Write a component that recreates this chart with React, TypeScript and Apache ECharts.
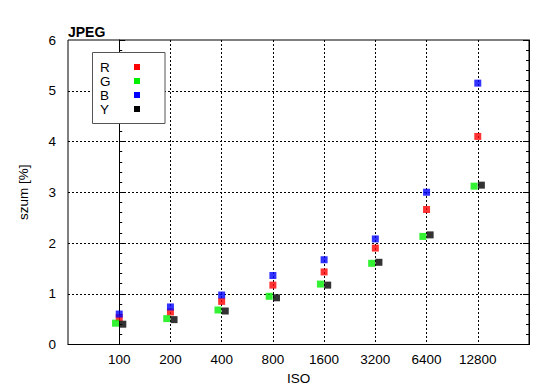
import React, { useEffect, useRef } from "react";
import * as echarts from "echarts";

const isoLabels = ["100", "200", "400", "800", "1600", "3200", "6400", "12800"];
const rValues = [0.53, 0.64, 0.85, 1.17, 1.43, 1.9, 2.66, 4.1];
const gValues = [0.42, 0.51, 0.68, 0.95, 1.19, 1.6, 2.13, 3.12];
const bValues = [0.6, 0.74, 0.975, 1.36, 1.67, 2.08, 3.0, 5.15];
const yValues = [0.4, 0.49, 0.66, 0.92, 1.17, 1.62, 2.16, 3.14];
const seriesNames = ["R", "G", "B", "Y"];
const seriesColors = ["#ff0000", "#00ee00", "#0000ff", "#000000"];
const seriesShift = [0, -0.072, 0, 0.07];

const FONT = "Liberation Sans, Arial, sans-serif";

export default function App() {
  const ref = useRef<HTMLDivElement>(null);
  useEffect(() => {
    if (!ref.current) return;
    const chart = echarts.init(ref.current, undefined, {
      renderer: "svg",
      width: 550,
      height: 389,
    });
    const all = [rValues, gValues, bValues, yValues];
    const series = all.map((vals, si) => ({
      name: seriesNames[si],
      type: "scatter",
      symbol: "rect",
      symbolSize: 7,
      itemStyle: { color: seriesColors[si] },
      data: vals.map((v, i) => [i + seriesShift[si], v]),
      z: 3 + si,
    }));
    const yAxisCommon = {
      type: "value",
      min: 0,
      max: 6,
      interval: 1,
      axisLine: { show: true, lineStyle: { color: "#000", width: 1 } },
      axisTick: { show: true, inside: true, length: 6, lineStyle: { color: "#000" } },
      minorTick: { show: true, splitNumber: 5, length: 3, lineStyle: { color: "#000" } },
    };
    const legendRowY = [67, 81, 95, 109];
    const legendEls: any[] = [
      {
        type: "rect",
        shape: { x: 92.5, y: 52.5, width: 72.5, height: 71 },
        style: { fill: "#fff", stroke: "#555", lineWidth: 1 },
        z: 100,
      },
    ];
    seriesNames.forEach((n, i) => {
      legendEls.push({
        type: "text",
        x: 100,
        y: legendRowY[i],
        style: {
          text: n,
          fontFamily: FONT,
          fontSize: 13.5,
          lineHeight: 12,
          fill: "#000",
          textAlign: "left",
          textVerticalAlign: "middle",
        },
        z: 101,
      });
      legendEls.push({
        type: "rect",
        shape: { x: 134, y: legendRowY[i] - 3, width: 6, height: 6 },
        style: { fill: seriesColors[i] },
        z: 101,
      });
    });
    chart.setOption({
      animation: false,
      backgroundColor: "#fff",
      textStyle: { fontFamily: FONT },
      title: {
        text: "JPEG",
        left: 68,
        top: 25,
        padding: 0,
        textStyle: { fontFamily: FONT, fontSize: 14, fontWeight: "bold", color: "#000" },
      },
      grid: {
        left: 68,
        right: 21,
        top: 40,
        bottom: 44.5,
        outerBoundsMode: "none",
        containLabel: false,
        show: true,
        borderColor: "#000",
        borderWidth: 1,
        backgroundColor: "transparent",
      },
      graphic: legendEls,
      xAxis: {
        type: "value",
        min: -1,
        max: 8,
        interval: 1,
        name: "ISO",
        nameLocation: "middle",
        nameGap: 27,
        nameTextStyle: { fontFamily: FONT, fontSize: 13.5, color: "#000" },
        axisLine: { show: true, lineStyle: { color: "#000" } },
        axisTick: { show: false },
        axisLabel: {
          margin: 8,
          fontFamily: FONT,
          fontSize: 13.5,
          color: "#000",
          showMinLabel: false,
          showMaxLabel: false,
          formatter: (v: number) => {
            const i = Math.round(v);
            return i >= 0 && i < isoLabels.length ? isoLabels[i] : "";
          },
        },
        splitLine: {
          show: true,
          showMinLine: false,
          showMaxLine: false,
          lineStyle: { color: "#000", type: [2, 2], width: 1 },
        },
      },
      yAxis: [
        {
          ...yAxisCommon,
          position: "left",
          name: "szum [%]",
          nameLocation: "middle",
          nameGap: 38,
          nameTextStyle: { fontFamily: FONT, fontSize: 13.5, color: "#000" },
          axisLabel: { margin: 12, fontFamily: FONT, fontSize: 13.5, color: "#000" },
          splitLine: {
            show: true,
            showMinLine: false,
            showMaxLine: false,
            lineStyle: { color: "#000", type: [2, 2], width: 1 },
          },
        },
        {
          ...yAxisCommon,
          position: "right",
          axisLabel: { show: false },
          splitLine: { show: false },
        },
      ],
      series,
    });
    return () => chart.dispose();
  }, []);
  return (
    <div
      ref={ref}
      style={{ position: "absolute", left: 0, top: 0, width: 550, height: 389 }}
    />
  );
}
